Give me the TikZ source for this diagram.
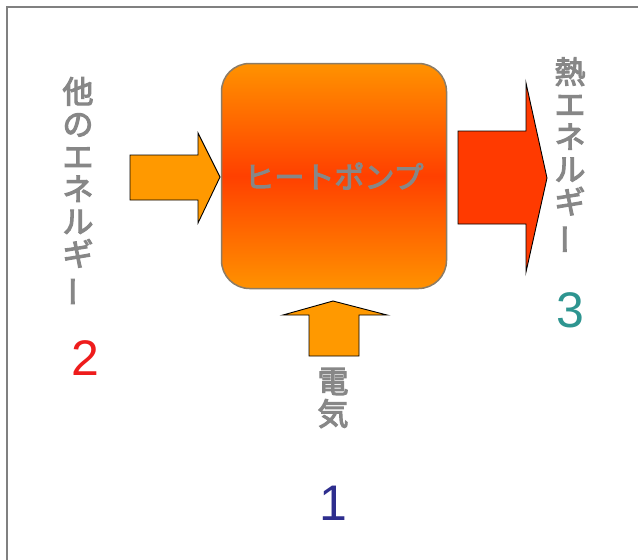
\documentclass[tikz,border=0pt]{standalone}
\usepackage{fontspec}
\usepackage{graphicx}
\setmainfont{Liberation Sans}
\newfontfamily\jp{Noto Sans CJK JP}[FakeBold=3.5]
\definecolor{txtgray}{HTML}{878787}
\definecolor{arrorange}{HTML}{FF9900}
\definecolor{arrred}{HTML}{FF3A00}
\definecolor{boxtop}{HTML}{FF9200}
\definecolor{boxmid}{HTML}{FF4000}
\definecolor{boxedge}{HTML}{8C7C66}
\definecolor{numred}{HTML}{EE1C1C}
\definecolor{numteal}{HTML}{2E9590}
\definecolor{numblue}{HTML}{2E2E8E}
\newcommand{\vbar}{\rotatebox[origin=c]{90}{ー}}
\begin{document}
\begin{tikzpicture}[x=1pt,y=-1pt,
  vtext/.style={text=txtgray, font=\jp\fontsize{31}{32.5}\selectfont, align=center, inner sep=0},
  numtext/.style={font=\fontsize{50}{50}\selectfont, inner sep=0},
  fatarrow/.style={draw=black, line width=0.9pt, line join=miter}]
\useasboundingbox (0,0) rectangle (638,560);
\fill[white] (0,0) rectangle (638,560);
\draw[gray, line width=2pt] (7,560) -- (7,7) -- (638,7);
% heat pump box
\node[draw=boxedge, line width=1.5pt, rounded corners=28pt, minimum width=225pt, minimum height=225pt,
  top color=boxtop, bottom color=boxtop, middle color=boxmid, inner sep=0,
  text=txtgray, font=\jp\fontsize{30}{30}\selectfont] (hp) at (334,176) {ヒートポンプ};
% left arrow
\draw[fatarrow, fill=arrorange] (130,155) -- (198,155) -- (198,133) -- (220,177) -- (198,223) -- (198,200) -- (130,200) -- cycle;
% right arrow
\draw[fatarrow, fill=arrred] (458,131) -- (526,131) -- (526,83) -- (547,178) -- (526,272) -- (526,224) -- (458,224) -- cycle;
% bottom arrow
\draw[fatarrow, fill=arrorange] (309,356) -- (309,315) -- (283,315) -- (333,301) -- (387,315) -- (359,315) -- (359,356) -- cycle;
% labels
\node[vtext] (other) at (78,192) {他\\の\\エ\\ネ\\ル\\ギ\\\vbar};
\node[vtext] (heat) at (570,156) {熱\\エ\\ネ\\ル\\ギ\\\vbar};
\node[vtext] (elec) at (333,398) {電\\気};
\node[numtext, text=numred] (n2) at (85,358) {2};
\node[numtext, text=numteal] (n3) at (570,310) {3};
\node[numtext, text=numblue] (n1) at (333,503) {1};
\end{tikzpicture}
\end{document}
